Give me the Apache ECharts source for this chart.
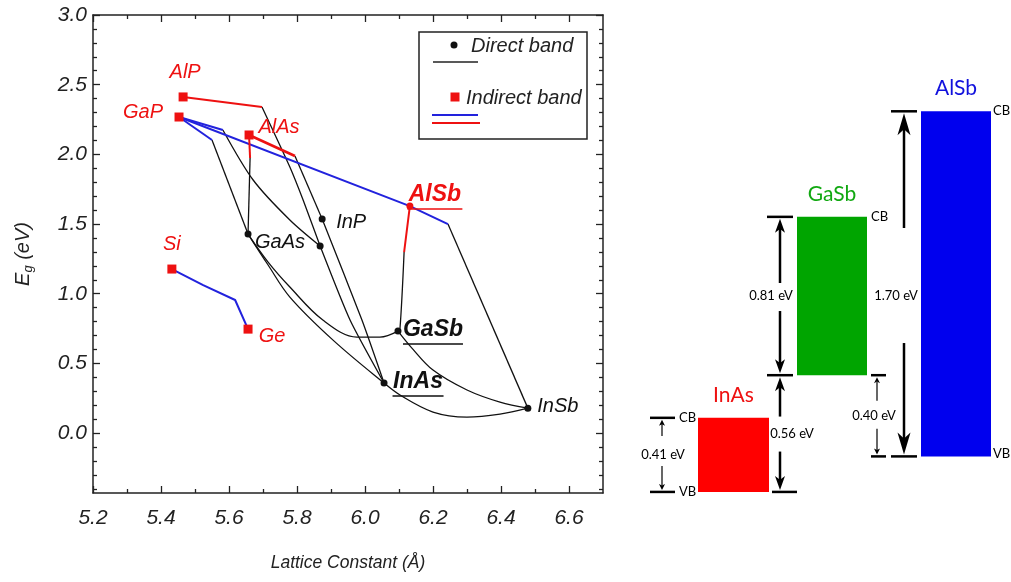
<!DOCTYPE html>
<html><head><meta charset="utf-8">
<script src="https://cdn.jsdelivr.net/npm/echarts@6/dist/echarts.min.js"></script>
<style>html,body{margin:0;padding:0;background:#fff}#c{width:1011px;height:582px}</style>
</head><body><div id="c"></div>
<script>
// ================= DATA =================
// Left panel: band gap (eV) vs lattice constant (Å)
const xTickLabels = [5.2, 5.4, 5.6, 5.8, 6.0, 6.2, 6.4, 6.6];
const yTickLabels = [0.0, 0.5, 1.0, 1.5, 2.0, 2.5, 3.0];

const indirectNames   = ['AlP', 'GaP', 'AlAs', 'Si', 'Ge'];
const indirectLattice = [5.465, 5.453, 5.659, 5.432, 5.656];
const indirectGap     = [2.412, 2.268, 2.139, 1.177, 0.746];

const alsbNames   = ['AlSb'];
const alsbLattice = [6.132];
const alsbGap     = [1.629];

const directNames   = ['GaAs', 'InP', '', 'GaSb', 'InAs', 'InSb'];
const directLattice = [5.656, 5.874, 5.868, 6.097, 6.056, 6.479];
const directGap     = [1.428, 1.536, 1.342, 0.732, 0.359, 0.179];

// indirect (red) segments
const redAlP      = [[5.465, 2.412], [5.697, 2.340]];
const redAlAsAlSb = [[5.659, 2.139], [5.794, 1.988]];
const redAlAsGaAs = [[5.659, 2.139], [5.662, 1.974]];
const redAlSbGaSb = [[6.132, 1.629], [6.115, 1.299]];
// indirect (blue) segments
const blueGaPAlSb = [[5.453, 2.268], [6.132, 1.629], [6.244, 1.500]];
const blueGaPGaAs = [[5.453, 2.268], [5.550, 2.103]];
const blueGaPInP  = [[5.453, 2.268], [5.582, 2.175]];
const blueSiGe    = [[5.432, 1.177], [5.524, 1.062], [5.618, 0.955], [5.656, 0.746]];
// direct (black) segments
const blkGaPGaAs  = [[5.550, 2.103], [5.656, 1.428]];
const blkAlAsGaAs = [[5.662, 1.974], [5.656, 1.428]];
const blkGaPInP   = [[5.582, 2.175], [5.671, 1.816], [5.779, 1.529], [5.868, 1.342]];
const blkAlPInP   = [[5.697, 2.340], [5.779, 1.909], [5.818, 1.672], [5.868, 1.342]];
const blkAlAsInP  = [[5.794, 1.988], [5.874, 1.536]];
const blkInPInAsA = [[5.874, 1.536], [5.991, 0.811], [6.056, 0.359]];
const blkInPInAsB = [[5.868, 1.342], [5.956, 0.811], [6.056, 0.359]];
const blkGaAsInSb = [[5.656, 1.428], [5.715, 1.206], [5.779, 0.976], [5.906, 0.667], [6.056, 0.359],
                     [6.103, 0.273], [6.200, 0.151], [6.300, 0.115], [6.397, 0.136], [6.479, 0.179]];
const blkGaAsGaSb = [[5.656, 1.428], [5.715, 1.227], [5.779, 1.048], [5.876, 0.811], [5.976, 0.689],
                     [6.044, 0.689], [6.097, 0.732]];
const blkGaSbInSb = [[6.097, 0.732], [6.138, 0.610], [6.200, 0.452], [6.300, 0.309], [6.397, 0.222], [6.479, 0.179]];
const blkAlSbInSb = [[6.244, 1.500], [6.479, 0.179]];
const blkAlSbGaSb = [[6.115, 1.299], [6.103, 0.754], [6.097, 0.732]];

// Right panel: band alignment (eV, GaSb VB = 0)
const materials    = ['InAs', 'GaSb', 'AlSb'];
const cbLevel      = [-0.21, 0.78, 1.30];
const vbLevel      = [-0.575, 0.00, -0.40];
const gapLabels    = ['0.41 eV', '0.81 eV', '1.70 eV'];
const offsetLabels = ['0.56 eV', '0.40 eV'];
const edgeLabels   = ['CB', 'VB'];

// ================= STYLE / LAYOUT =================
const FL = '"Liberation Sans", Arial, sans-serif';
const FR = 'Lato, "Open Sans", sans-serif';
const RED = '#ee1111', BLUE = '#2222dd', BLK = '#111', AX = '#222';

const xMinor = []; for (let k = 53; k <= 65; k += 2) xMinor.push(k / 10);
const yMinor = []; for (let k = -4; k <= 29; k++) if (k % 5 !== 0) yMinor.push(k / 10);

const labelPos = { AlP:[2,-25], GaP:[-36,-5], AlAs:[30,-8], Si:[0,-25], Ge:[24,7], GaAs:[32,8],
                   InP:[29,3], AlSb:[25,-11], GaSb:[35,-1], InAs:[34,-1], InSb:[30,-2] };
const underlineW = { AlSb:55, GaSb:60, InAs:51 };

function labelFor(name, color) {
  if (!name) return { show:false };
  const u = underlineW[name];
  return {
    show:true, position:'inside', offset:labelPos[name],
    formatter: u ? '{t|' + name + '}\n{hr|}' : name,
    color, fontFamily:FL, fontStyle:'italic', fontSize:20, align:'center', opacity:1,
    textBorderWidth:0, textBorderColor:'transparent',
    rich: u ? {
      t:{ color, fontFamily:FL, fontStyle:'italic', fontWeight:'bold', fontSize:23, lineHeight:28, align:'center',
          textBorderWidth:0 },
      hr:{ width:u, height:0, borderWidth:1.6, borderColor:color, align:'center' }
    } : undefined
  };
}

function seg(data, color, width, smooth) {
  return { type:'line', data, xAxisIndex:0, yAxisIndex:0, symbol:'none', smooth:smooth || false,
           lineStyle:{ color, width }, z:2, silent:true };
}

const barX = [[698, 769], [797, 867], [921, 991]];
const bandColors = ['#ff0000', '#00a500', '#0000ee'];
const titleColors = ['#ee1111', '#11a811', '#1111dd'];

const dims = [
  { x:662, hi:cbLevel[0], lo:vbLevel[0], text:gapLabels[0], tx:663, up:19, down:11, head:'small' },
  { x:780, hi:cbLevel[1], lo:vbLevel[1], text:gapLabels[1], tx:771, up:13, down:15, head:'mid' },
  { x:904, hi:cbLevel[2], lo:vbLevel[2], text:gapLabels[2], tx:896, up:68, down:47, head:'big',
    labelAt:(cbLevel[1] + vbLevel[1]) / 2 },
  { x:780, hi:vbLevel[1], lo:vbLevel[0], text:offsetLabels[0], tx:792, up:17, down:18, head:'mid' },
  { x:877, hi:vbLevel[1], lo:vbLevel[2], text:offsetLabels[1], tx:874, up:15, down:13, head:'small' }
];
const heads = { small:{ len:6, hw:3, w:1.2 }, mid:{ len:14, hw:5, w:2.5 }, big:{ len:22, hw:6.5, w:2.5 } };
const levelTicks = [
  { x1:650, x2:675, lv:cbLevel[0] }, { x1:650, x2:675, lv:vbLevel[0] }, { x1:772, x2:797, lv:vbLevel[0] },
  { x1:767, x2:793, lv:cbLevel[1] }, { x1:767, x2:793, lv:vbLevel[1] }, { x1:871, x2:886, lv:vbLevel[1] },
  { x1:871, x2:886, lv:vbLevel[2] }, { x1:891, x2:917, lv:cbLevel[2] }, { x1:891, x2:917, lv:vbLevel[2] }
];
const edgeText = [
  { t:edgeLabels[0], x:679, lv:cbLevel[0], dy:0 }, { t:edgeLabels[1], x:679, lv:vbLevel[0], dy:0 },
  { t:edgeLabels[0], x:871, lv:cbLevel[1], dy:0 }, { t:edgeLabels[0], x:993, lv:cbLevel[2], dy:0 },
  { t:edgeLabels[1], x:993, lv:vbLevel[2], dy:-3 }
];

function arrowHead(x, yTip, dir, h) { // dir -1: pointing up, +1: pointing down
  const yb = yTip - dir * h.len, yn = yTip - dir * h.len * 0.72;
  return { type:'polygon', shape:{ points:[[x, yTip], [x - h.hw, yb], [x, yn], [x + h.hw, yb]] }, style:{ fill:'#000' } };
}

// ================= CHART =================
const chart = echarts.init(document.getElementById('c'), null, { renderer:'canvas' });

const axLine = { show:true, onZero:false, lineStyle:{ color:AX, width:1.5 } };
const noLine = { show:false, onZero:false };
const tickL = (vals, len) => ({ show:true, inside:true, length:len, customValues:vals, lineStyle:{ color:AX, width:1.3 } });
const noLab = { show:false };

const option = {
  animation:false,
  backgroundColor:'#fff',
  grid:[
    { left:93, top:15, width:510, height:478 },
    { left:620, top:91, width:391, height:406 }
  ],
  xAxis:[
    { type:'value', gridIndex:0, position:'bottom', min:5.2, max:6.7, axisLine:axLine,
      axisTick:tickL(xTickLabels, 7), splitLine:{ show:false },
      axisLabel:{ customValues:xTickLabels, formatter:v => v.toFixed(1), margin:15, color:AX,
                  fontFamily:FL, fontStyle:'italic', fontSize:21 },
      name:'Lattice Constant (Å)', nameLocation:'middle', nameGap:61,
      nameTextStyle:{ color:AX, fontFamily:FL, fontStyle:'italic', fontSize:17.5 } },
    { type:'value', gridIndex:0, position:'bottom', min:5.2, max:6.7, axisLine:noLine,
      axisTick:tickL(xMinor, 4), axisLabel:noLab, splitLine:{ show:false } },
    { type:'value', gridIndex:0, position:'top', min:5.2, max:6.7, axisLine:axLine,
      axisTick:tickL(xTickLabels, 7), axisLabel:noLab, splitLine:{ show:false } },
    { type:'value', gridIndex:0, position:'top', min:5.2, max:6.7, axisLine:noLine,
      axisTick:tickL(xMinor, 4), axisLabel:noLab, splitLine:{ show:false } },
    { type:'value', gridIndex:1, min:620, max:1011, show:false }
  ],
  yAxis:[
    { type:'value', gridIndex:0, position:'left', min:-0.43, max:3.0, axisLine:axLine,
      axisTick:tickL(yTickLabels, 7), splitLine:{ show:false },
      axisLabel:{ customValues:yTickLabels, formatter:v => v.toFixed(1), margin:6, color:AX,
                  fontFamily:FL, fontStyle:'italic', fontSize:21 },
      name:'{e|E}{g|g}{t| (eV)}', nameLocation:'middle', nameGap:58, nameRotate:90,
      nameTextStyle:{ rich:{
        e:{ fontFamily:FL, fontStyle:'italic', fontSize:20, color:AX, lineHeight:24, verticalAlign:'middle' },
        g:{ fontFamily:FL, fontStyle:'italic', fontSize:13, color:AX, lineHeight:14, verticalAlign:'bottom' },
        t:{ fontFamily:FL, fontStyle:'italic', fontSize:20, color:AX, lineHeight:24, verticalAlign:'middle' } } } },
    { type:'value', gridIndex:0, position:'left', min:-0.43, max:3.0, axisLine:noLine,
      axisTick:tickL(yMinor, 4), axisLabel:noLab, splitLine:{ show:false } },
    { type:'value', gridIndex:0, position:'right', min:-0.43, max:3.0, axisLine:axLine,
      axisTick:tickL(yTickLabels, 7), axisLabel:noLab, splitLine:{ show:false } },
    { type:'value', gridIndex:0, position:'right', min:-0.43, max:3.0, axisLine:noLine,
      axisTick:tickL(yMinor, 4), axisLabel:noLab, splitLine:{ show:false } },
    { type:'value', gridIndex:1, min:-0.6, max:1.4, show:false }
  ],
  graphic:[
    { type:'rect', shape:{ x:419, y:32, width:168, height:107 }, style:{ fill:'#fff', stroke:AX, lineWidth:1.5 }, z:10 },
    { type:'circle', shape:{ cx:454, cy:45, r:3.5 }, style:{ fill:'#111' }, z:11 },
    { type:'text', x:471, y:46, style:{ text:'Direct band', fontFamily:FL, fontStyle:'italic', fontSize:20, fill:AX, verticalAlign:'middle' }, z:11 },
    { type:'line', shape:{ x1:433, y1:62, x2:478, y2:62 }, style:{ stroke:AX, lineWidth:1.3 }, z:11 },
    { type:'rect', shape:{ x:450.5, y:92.5, width:9, height:9 }, style:{ fill:RED }, z:11 },
    { type:'text', x:466, y:98, style:{ text:'Indirect band', fontFamily:FL, fontStyle:'italic', fontSize:20, fill:AX, verticalAlign:'middle' }, z:11 },
    { type:'line', shape:{ x1:432, y1:115, x2:478, y2:115 }, style:{ stroke:BLUE, lineWidth:2 }, z:11 },
    { type:'line', shape:{ x1:432, y1:123, x2:480, y2:123 }, style:{ stroke:RED, lineWidth:2 }, z:11 }
  ],
  series:[
    seg(blkGaPGaAs, BLK, 1.3), seg(blkAlAsGaAs, BLK, 1.3), seg(blkGaPInP, BLK, 1.3, 0.3),
    seg(blkAlPInP, BLK, 1.3, 0.2), seg(blkAlAsInP, BLK, 1.3), seg(blkInPInAsA, BLK, 1.3, 0.2),
    seg(blkInPInAsB, BLK, 1.3, 0.2), seg(blkGaAsInSb, BLK, 1.3, 0.35), seg(blkGaAsGaSb, BLK, 1.3, 0.35),
    seg(blkGaSbInSb, BLK, 1.3, 0.35), seg(blkAlSbInSb, BLK, 1.3), seg(blkAlSbGaSb, BLK, 1.3, 0.3),
    seg(blueGaPAlSb, BLUE, 2), seg(blueGaPGaAs, BLUE, 2), seg(blueGaPInP, BLUE, 2), seg(blueSiGe, BLUE, 2),
    seg(redAlP, RED, 2), seg(redAlAsAlSb, RED, 2.6), seg(redAlAsGaAs, RED, 2), seg(redAlSbGaSb, RED, 2),
    { type:'scatter', xAxisIndex:0, yAxisIndex:0, symbol:'rect', symbolSize:9, z:5,
      itemStyle:{ color:RED, opacity:1 },
      data:indirectNames.map((n, i) => ({ name:n, value:[indirectLattice[i], indirectGap[i]], label:labelFor(n, RED) })) },
    { type:'scatter', xAxisIndex:0, yAxisIndex:0, symbol:'circle', symbolSize:7, z:5,
      itemStyle:{ color:RED, opacity:1 },
      data:alsbNames.map((n, i) => ({ name:n, value:[alsbLattice[i], alsbGap[i]], label:labelFor(n, RED) })) },
    { type:'scatter', xAxisIndex:0, yAxisIndex:0, symbol:'circle', symbolSize:7, z:5,
      itemStyle:{ color:'#111', opacity:1 },
      data:directNames.map((n, i) => ({ name:n, value:[directLattice[i], directGap[i]], label:labelFor(n, BLK) })) },
    // band rectangles
    { type:'custom', xAxisIndex:4, yAxisIndex:4, z:3,
      data:materials.map((m, i) => [i, vbLevel[i], cbLevel[i]]),
      renderItem:(p, api) => {
        const i = api.value(0);
        const a = api.coord([barX[i][0], api.value(2)]);
        const b = api.coord([barX[i][1], api.value(1)]);
        return { type:'group', children:[
          { type:'rect', shape:{ x:a[0], y:a[1], width:b[0] - a[0], height:b[1] - a[1] }, style:{ fill:bandColors[i] } },
          { type:'text', style:{ text:materials[i], x:(a[0] + b[0]) / 2, y:a[1] - 23, fill:titleColors[i],
            fontFamily:FR, fontSize:21, align:'center', verticalAlign:'middle' } }
        ] };
      } },
    // annotations
    { type:'custom', xAxisIndex:4, yAxisIndex:4, z:4, data:[[0, 0]],
      renderItem:(p, api) => {
        const ch = [];
        const Y = v => api.coord([700, v])[1];
        levelTicks.forEach(t => {
          const y = Y(t.lv);
          ch.push({ type:'line', shape:{ x1:t.x1, y1:y, x2:t.x2, y2:y }, style:{ stroke:'#000', lineWidth:2.5 } });
        });
        edgeText.forEach(t => {
          ch.push({ type:'text', style:{ text:t.t, x:t.x, y:Y(t.lv) + t.dy, fill:'#000', fontFamily:FR, fontSize:13,
            align:'left', verticalAlign:'middle' } });
        });
        dims.forEach(d => {
          const yh = Y(d.hi), yl = Y(d.lo);
          const ym = d.labelAt !== undefined ? Y(d.labelAt) : (yh + yl) / 2;
          const h = heads[d.head];
          const tipUp = yh + 2, tipDn = yl - 2;
          ch.push({ type:'line', shape:{ x1:d.x, y1:ym - d.up, x2:d.x, y2:tipUp + h.len * 0.7 }, style:{ stroke:'#000', lineWidth:h.w } });
          ch.push(arrowHead(d.x, tipUp, -1, h));
          ch.push({ type:'line', shape:{ x1:d.x, y1:ym + d.down, x2:d.x, y2:tipDn - h.len * 0.7 }, style:{ stroke:'#000', lineWidth:h.w } });
          ch.push(arrowHead(d.x, tipDn, 1, h));
          ch.push({ type:'text', style:{ text:d.text, x:d.tx, y:ym, fill:'#000', fontFamily:FR, fontSize:13,
            align:'center', verticalAlign:'middle' } });
        });
        return { type:'group', children:ch };
      } }
  ]
};
chart.setOption(option);
</script>
</body></html>
